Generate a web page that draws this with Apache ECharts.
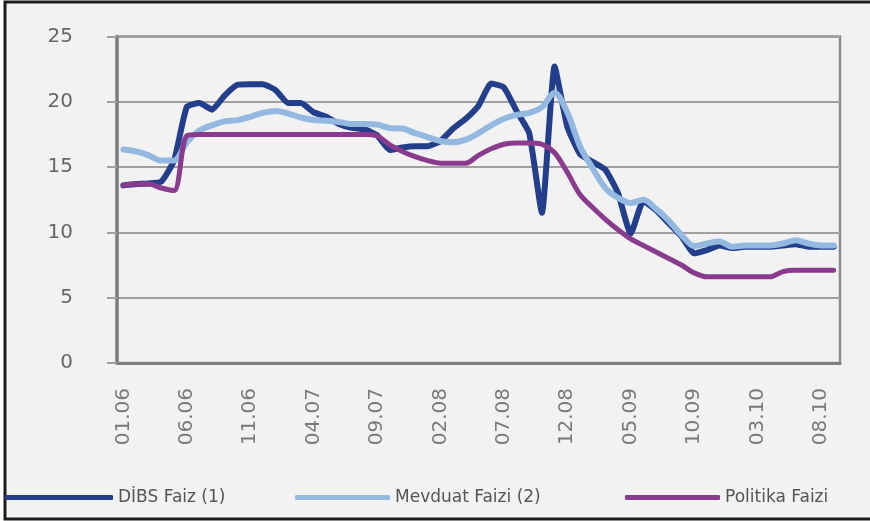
<!DOCTYPE html>
<html>
<head>
<meta charset="utf-8">
<script src="https://cdn.jsdelivr.net/npm/echarts@6/dist/echarts.min.js"></script>
<style>
html,body{margin:0;padding:0;background:#fff;}
#chart{width:870px;height:521px;}
</style>
</head>
<body>
<div id="chart"></div>
<script>
const categories = [
  '01.06','02.06','03.06','04.06','05.06','06.06','07.06','08.06','09.06','10.06','11.06','12.06',
  '01.07','02.07','03.07','04.07','05.07','06.07','07.07','08.07','09.07','10.07','11.07','12.07',
  '01.08','02.08','03.08','04.08','05.08','06.08','07.08','08.08','09.08','10.08','11.08','12.08',
  '01.09','02.09','03.09','04.09','05.09','06.09','07.09','08.09','09.09','10.09','11.09','12.09',
  '01.10','02.10','03.10','04.10','05.10','06.10','07.10','08.10','09.10'
];
const dibsFaiz = [
  13.6, 13.7, 13.75, 13.9, 15.5, 19.6, 19.9, 19.4, 20.5, 21.3, 21.35, 21.35,
  20.9, 19.9, 19.9, 19.2, 18.85, 18.3, 18.0, 17.9, 17.45, 16.3, 16.5, 16.6,
  16.6, 17.0, 17.95, 18.7, 19.7, 21.4, 21.1, 19.3, 17.6, 11.5, 22.7, 18.1,
  16.0, 15.4, 14.8, 13.0, 9.9, 12.4, 11.7, 10.7, 9.7, 8.4, 8.65, 9.0,
  8.8, 8.9, 8.9, 8.9, 9.0, 9.1, 8.9, 8.9, 8.9
];
const mevduatFaizi = [
  16.35, 16.2, 15.9, 15.5, 15.5, 16.9, 17.8, 18.2, 18.5, 18.6, 18.85, 19.15,
  19.3, 19.1, 18.8, 18.6, 18.55, 18.45, 18.3, 18.3, 18.25, 18.0, 17.95, 17.6,
  17.3, 17.0, 16.9, 17.1, 17.6, 18.2, 18.7, 19.0, 19.15, 19.6, 20.7, 19.2,
  16.6, 14.9, 13.4, 12.65, 12.25, 12.5, 11.8, 10.9, 9.8, 8.95, 9.15, 9.3,
  8.9, 9.0, 9.0, 9.0, 9.15, 9.4, 9.15, 9.0, 9.0
];
const politikaFaizi = [
  13.6, 13.7, 13.7, 13.4, 13.2, 17.4, 17.5, 17.5, 17.5, 17.5, 17.5, 17.5,
  17.5, 17.5, 17.5, 17.5, 17.5, 17.5, 17.5, 17.5, 17.4, 16.7, 16.2, 15.8,
  15.5, 15.3, 15.3, 15.3, 15.9, 16.4, 16.75, 16.85, 16.85, 16.75, 16.1, 14.6,
  12.9, 11.9, 11.0, 10.2, 9.5, 9.0, 8.5, 8.0, 7.5, 6.9, 6.6, 6.6,
  6.6, 6.6, 6.6, 6.6, 7.0, 7.1, 7.1, 7.1, 7.1
];
const seriesNames = ['DİBS Faiz (1)', 'Mevduat Faizi (2)', 'Politika Faizi'];
const seriesColors = ['#233f8c', '#94b9e1', '#8b3b8d'];

const FONT = 'DejaVu Sans';
const chart = echarts.init(document.getElementById('chart'), null, {renderer: 'canvas'});
const legendText = {fontFamily: FONT, fontSize: 17, color: '#555555'};
function legendFor(idx, left, width) {
  return {
    data: [{name: seriesNames[idx], icon: 'roundRect', itemStyle: {color: seriesColors[idx]}}],
    left: left, top: 484, itemWidth: width, itemHeight: 5, itemGap: 0,
    selectedMode: false, textStyle: legendText
  };
}
chart.setOption({
  animation: false,
  backgroundColor: '#ffffff',
  graphic: [
    {type: 'rect', z: -100, shape: {x: 5, y: 2, width: 865, height: 517},
     style: {fill: '#f2f2f2', stroke: null}},
    {type: 'polyline', z: -99, shape: {points: [[870, 2], [5, 2], [5, 519], [870, 519]]},
     style: {fill: null, stroke: '#1c1c1c', lineWidth: 3}}
  ],
  grid: {
    left: 117, right: 30, top: 36.5, bottom: 158,
    show: true, backgroundColor: 'transparent', borderColor: '#8c8c8c', borderWidth: 2.5,
    outerBoundsMode: 'none', containLabel: false
  },
  legend: [
    legendFor(0, 0, 108),
    legendFor(1, 290, 95),
    legendFor(2, 620, 95)
  ],
  xAxis: {
    type: 'category',
    data: categories,
    boundaryGap: true,
    axisLine: {show: true, lineStyle: {color: '#7f7f7f', width: 3}},
    axisTick: {show: false},
    splitLine: {show: false},
    axisLabel: {
      interval: 4, rotate: 90, margin: 25,
      fontFamily: FONT, fontSize: 20, color: '#7a7a7a'
    }
  },
  yAxis: {
    type: 'value',
    min: 0, max: 25, interval: 5,
    axisLine: {show: true, lineStyle: {color: '#7f7f7f', width: 3.5}},
    axisTick: {show: true, length: 10, lineStyle: {color: '#a0a0a0', width: 2}},
    splitLine: {show: true, lineStyle: {color: '#a0a0a0', width: 2}},
    axisLabel: {margin: 44, fontFamily: FONT, fontSize: 20, color: '#666666'}
  },
  series: [
    {name: seriesNames[0], type: 'line', data: dibsFaiz, symbol: 'none', smooth: 0.15,
     lineStyle: {color: seriesColors[0], width: 6, join: 'round', cap: 'round'},
     itemStyle: {color: seriesColors[0]}, z: 2},
    {name: seriesNames[1], type: 'line', data: mevduatFaizi, symbol: 'none', smooth: 0.3,
     lineStyle: {color: seriesColors[1], width: 6, join: 'round', cap: 'round'},
     itemStyle: {color: seriesColors[1]}, z: 3},
    {name: seriesNames[2], type: 'line', data: politikaFaizi, symbol: 'none', smooth: 0.3,
     lineStyle: {color: seriesColors[2], width: 5, join: 'round', cap: 'round'},
     itemStyle: {color: seriesColors[2]}, z: 4}
  ]
});
</script>
</body>
</html>
